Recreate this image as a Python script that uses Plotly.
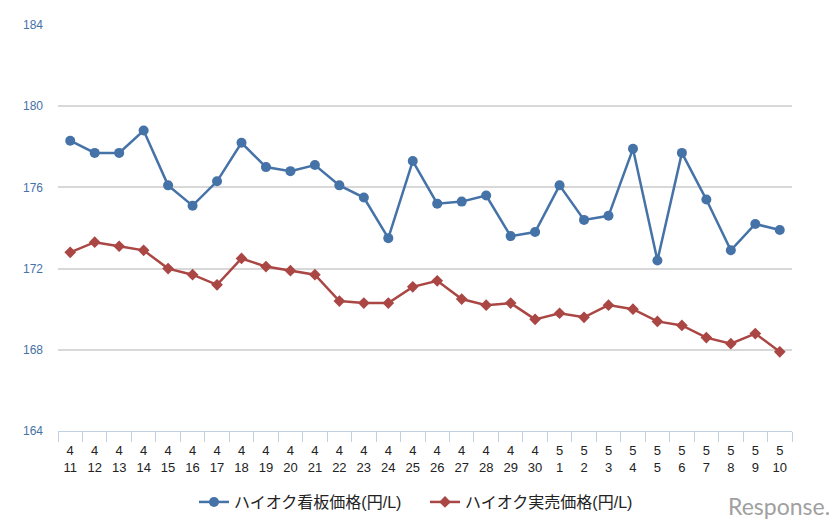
import plotly.graph_objects as go

dates = ["4/11", "4/12", "4/13", "4/14", "4/15", "4/16", "4/17", "4/18", "4/19", "4/20",
         "4/21", "4/22", "4/23", "4/24", "4/25", "4/26", "4/27", "4/28", "4/29", "4/30",
         "5/1", "5/2", "5/3", "5/4", "5/5", "5/6", "5/7", "5/8", "5/9", "5/10"]
# two-line tick labels: month on top, day below
tick_labels = [d.replace("/", "<br>") for d in dates]

kanban = [178.3, 177.7, 177.7, 178.8, 176.1, 175.1, 176.3, 178.2, 177.0, 176.8,
          177.1, 176.1, 175.5, 173.5, 177.3, 175.2, 175.3, 175.6, 173.6, 173.8,
          176.1, 174.4, 174.6, 177.9, 172.4, 177.7, 175.4, 172.9, 174.2, 173.9]
jitsubai = [172.8, 173.3, 173.1, 172.9, 172.0, 171.7, 171.2, 172.5, 172.1, 171.9,
            171.7, 170.4, 170.3, 170.3, 171.1, 171.4, 170.5, 170.2, 170.3, 169.5,
            169.8, 169.6, 170.2, 170.0, 169.4, 169.2, 168.6, 168.3, 168.8, 167.9]
y_ticks = [164, 168, 172, 176, 180, 184]

fig = go.Figure()
fig.add_trace(go.Scatter(x=dates, y=kanban, mode="lines+markers",
                         name="ハイオク看板価格(円/L)",
                         line=dict(color="#4572A7", width=2.5),
                         marker=dict(symbol="circle", size=10, color="#4572A7")))
fig.add_trace(go.Scatter(x=dates, y=jitsubai, mode="lines+markers",
                         name="ハイオク実売価格(円/L)",
                         line=dict(color="#AA4643", width=2.5),
                         marker=dict(symbol="diamond", size=9, color="#AA4643")))

# the page body adds an 8px offset, so margins are shifted to compensate
fig.update_layout(
    width=837, height=528,
    margin=dict(l=50, r=53, t=17, b=105, autoexpand=False),
    plot_bgcolor="white", paper_bgcolor="white",
    font=dict(family="Liberation Sans, Arial, Noto Sans CJK JP", color="#222222"),
    showlegend=True,
    legend=dict(orientation="h", x=0.5, xanchor="center", y=-0.175, yanchor="middle",
                font=dict(size=16, color="#222222"), itemwidth=30, entrywidth=186),
    annotations=[dict(text="Response.", x=1.055, y=-0.185,
                      xref="paper", yref="paper", xanchor="right", yanchor="middle",
                      showarrow=False,
                      font=dict(family="Lato, Liberation Sans", size=23, color="#a0a0a0"))],
)
fig.update_xaxes(type="category", tickmode="array", tickvals=dates, ticktext=tick_labels,
                 range=[-0.5, len(dates) - 0.5],
                 tickson="boundaries", ticks="outside", ticklen=10, tickcolor="#C0D0E0",
                 tickangle=0, automargin=False, ticklabelstandoff=7,
                 showline=True, linecolor="#C0D0E0", linewidth=1, showgrid=False,
                 tickfont=dict(size=13, color="#222222"))
fig.update_yaxes(range=[164, 184], tickvals=y_ticks, showgrid=True, gridcolor="#D8D8D8",
                 gridwidth=1.5, zeroline=False, ticklabelstandoff=14, automargin=False,
                 tickfont=dict(size=12, color="#4572A7"))

fig.write_html("out.html")
